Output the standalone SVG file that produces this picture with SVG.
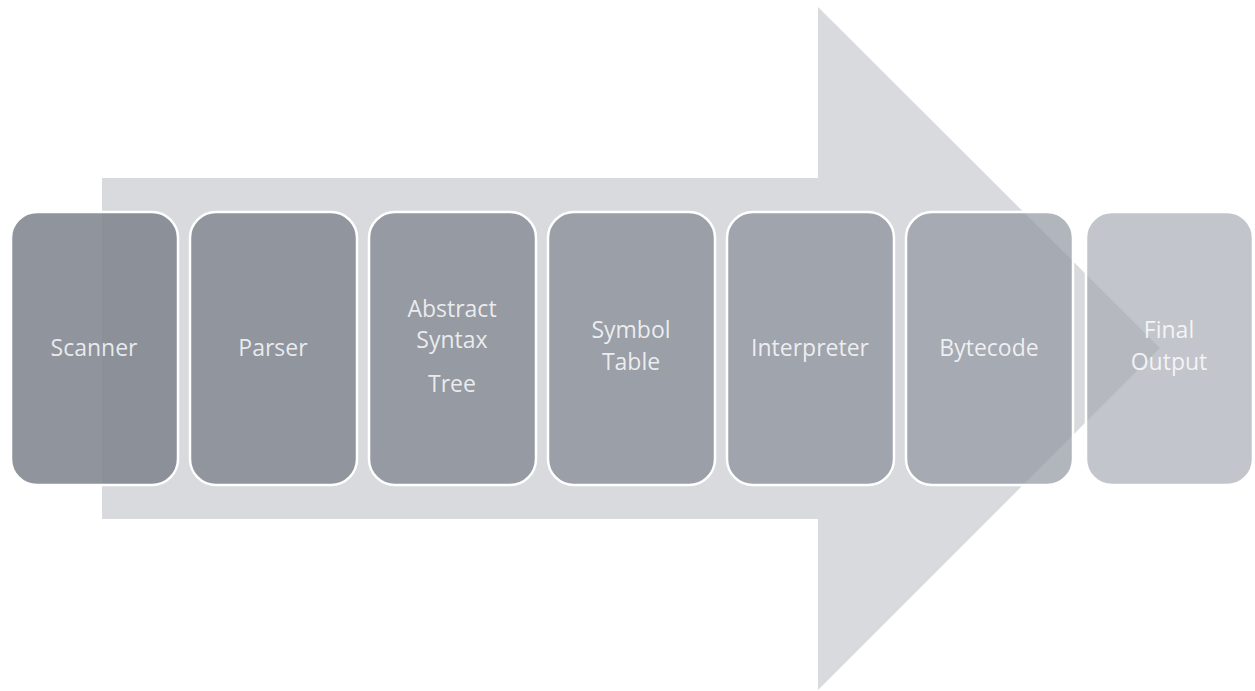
<svg xmlns="http://www.w3.org/2000/svg" width="1255" height="691" viewBox="0 0 1255 691">
<style>
.box{stroke:#ffffff;stroke-width:2.5}
.lbl{font-family:"Open Sans","Noto Sans","Liberation Sans",sans-serif;font-size:23px;fill:#ffffff;fill-opacity:0.82;text-anchor:middle}
</style>
<rect width="1255" height="691" fill="#ffffff"/>
<g id="connectors">
<path d="M102,178 H818 V7 L1160,348 L818,690 V519 H102 Z" fill="#d9dadd"/>
</g>
<g id="n1"><rect class="box" x="11" y="212" width="167" height="273" rx="26" fill="#7f8590" fill-opacity="0.88"/><text class="lbl" x="94" y="356">Scanner</text></g>
<g id="n2"><rect class="box" x="190" y="212" width="167" height="273" rx="26" fill="#838893" fill-opacity="0.85"/><text class="lbl" x="273" y="356">Parser</text></g>
<g id="n3"><rect class="box" x="369" y="212" width="167" height="273" rx="26" fill="#858b95" fill-opacity="0.81"/><text class="lbl" x="452" y="317">Abstract</text><text class="lbl" x="452" y="348">Syntax</text><text class="lbl" x="452" y="392">Tree</text></g>
<g id="n4"><rect class="box" x="548" y="212" width="167" height="273" rx="26" fill="#878c98" fill-opacity="0.77"/><text class="lbl" x="631" y="338">Symbol</text><text class="lbl" x="631" y="370">Table</text></g>
<g id="n5"><rect class="box" x="727" y="212" width="167" height="273" rx="26" fill="#8c919c" fill-opacity="0.74"/><text class="lbl" x="810" y="356">Interpreter</text></g>
<g id="n6"><rect class="box" x="906" y="212" width="167" height="273" rx="26" fill="#9095a0" fill-opacity="0.70"/><text class="lbl" x="989" y="356">Bytecode</text></g>
<g id="n7"><rect class="box" x="1086" y="212" width="167" height="273" rx="26" fill="#a2a7b0" fill-opacity="0.66"/><text class="lbl" x="1169" y="338">Final</text><text class="lbl" x="1169" y="370">Output</text></g>
</svg>
